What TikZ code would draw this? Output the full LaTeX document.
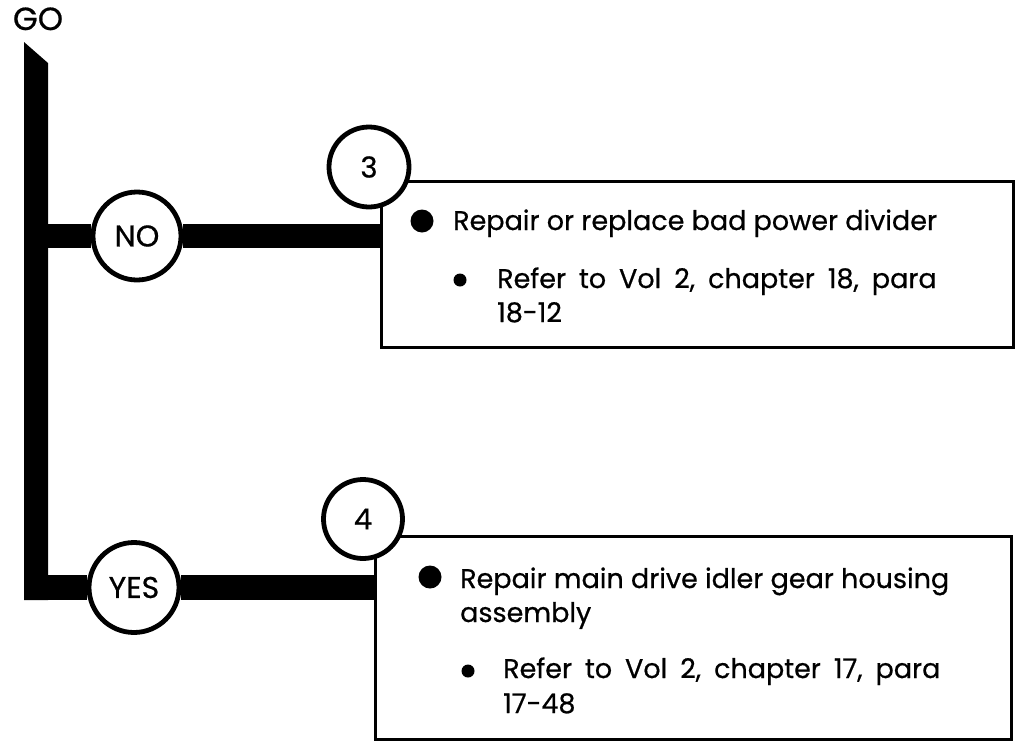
\documentclass[tikz,border=0pt]{standalone}
\usepackage{fontspec}
\setmainfont{Poppins}[FakeBold=0.6]
\newfontfamily\widespace[WordSpace=1.8,FakeBold=0.6]{Poppins}
\usetikzlibrary{backgrounds}
\begin{document}
\begin{tikzpicture}[x=1pt,y=-1pt,
  bar/.style={line width=24.5pt},
  spine/.style={fill=black},
  answer/.style={circle, draw, line width=4.8pt, fill=white, inner sep=0pt, minimum size=88pt, font=\fontsize{30}{30}\selectfont},
  stepnum/.style={circle, draw, line width=4.8pt, fill=white, inner sep=0pt, minimum size=79pt, font=\fontsize{29}{29}\selectfont},
  panel/.style={draw, line width=2.8pt, anchor=north west, inner sep=0pt},
  bigdot/.style={circle, fill=black, inner sep=0pt, minimum size=23pt},
  smalldot/.style={circle, fill=black, inner sep=0pt, minimum size=13pt},
  txt/.style={anchor=base west, inner sep=0pt, font=\fontsize{27}{34}\selectfont},
  reftxt/.style={txt, font=\fontsize{27}{34}\widespace}
]
\useasboundingbox (0,0) rectangle (1020,742);

% title
\node[anchor=base, inner sep=0pt, font=\fontsize{32}{32}\selectfont] (go) at (38,30) {GO};

% spine
\coordinate (sptl) at (24,42);
\coordinate (sptr) at (48,63);
\coordinate (spbr) at (48,600);
\coordinate (spbl) at (24,600);
\fill[spine] (sptl) -- (sptr) -- (spbr) -- (spbl) -- cycle;

% boxes
\node[panel, minimum width=632pt, minimum height=166pt] (box1) at (380,180) {};
\node[panel, minimum width=636pt, minimum height=203pt] (box2) at (374,535) {};

% junction points on the spine
\coordinate (jno) at (36,236);
\coordinate (jyes) at (36,587.5);

% answer circles
\node[answer] (no) at (137,236) {NO};
\node[answer, minimum size=90pt] (yes) at (134,587.5) {YES};

% bars
\begin{scope}[on background layer]
\draw[bar] (jno) -- (no) -- (no -| box1.west);
\draw[bar] (jyes) -- (yes) -- (yes -| box2.west);
\end{scope}

% step numbers
\node[stepnum, minimum size=80pt] (n3) at (369,167) {3};
\node[stepnum] (n4) at (363,519) {4};

% box 1 text
\node[bigdot] (b1) at (422,221) {};
\node[txt] (t1) at (453,230) {Repair or replace bad power divider};
\node[smalldot] (s1) at (460,280) {};
\node[reftxt] (t2) at (497,288) {Refer to Vol 2, chapter 18, para};
\node[reftxt] (t3) at (497,322) {18-12};

% box 2 text
\node[bigdot] (b2) at (430,577) {};
\node[txt] (u1) at (460,588) {Repair main drive idler gear housing};
\node[txt] (u2) at (460,622) {assembly};
\node[smalldot] (s2) at (468,671) {};
\node[reftxt] (u3) at (503,678) {Refer to Vol 2, chapter 17, para};
\node[reftxt] (u4) at (503,713) {17-48};
\end{tikzpicture}
\end{document}
